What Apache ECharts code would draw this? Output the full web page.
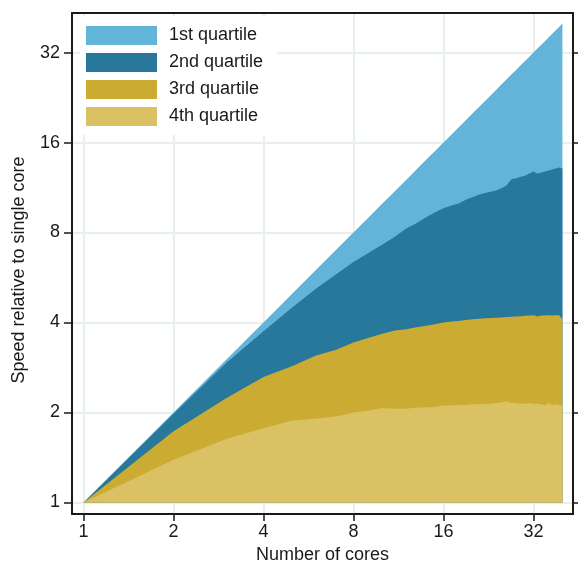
<!DOCTYPE html>
<html>
<head>
<meta charset="utf-8">
<script src="https://cdn.jsdelivr.net/npm/echarts@6/dist/echarts.min.js"></script>
<style>
html,body{margin:0;padding:0;background:#fff;}
#chart{width:578px;height:561px;}
</style>
</head>
<body>
<div id="chart"></div>
<script>
const cores = [1,2,3,4,5,6,7,8,9,10,11,12,13,14,15,16,17,18,19,20,21,22,23,24,25,26,27,28,29,30,31,32,33,34,35,36,37,38,39,40];
const quartile1 = [1,2,3,4,5,6,7,8,9,10,11,12,13,14,15,16,17,18,19,20,21,22,23,24,25,26,27,28,29,30,31,32,33,34,35,36,37,38,39,40];
const quartile2 = [1,1.98,2.93,3.74,4.5,5.2,5.8,6.38,6.85,7.3,7.75,8.25,8.6,9.0,9.35,9.65,9.85,10.0,10.3,10.5,10.7,10.85,10.95,11.05,11.25,11.5,12.05,12.15,12.3,12.4,12.6,12.8,12.6,12.7,12.8,12.9,13.0,13.1,13.2,13.1];
const quartile3 = [1,1.73,2.23,2.63,2.86,3.1,3.24,3.43,3.56,3.67,3.76,3.8,3.86,3.9,3.95,4.0,4.03,4.05,4.08,4.1,4.12,4.13,4.14,4.15,4.16,4.17,4.18,4.19,4.2,4.21,4.22,4.23,4.19,4.22,4.22,4.23,4.22,4.23,4.23,4.1];
const quartile4 = [1,1.39,1.63,1.77,1.88,1.91,1.94,2.0,2.03,2.07,2.06,2.06,2.08,2.08,2.09,2.11,2.11,2.12,2.12,2.13,2.13,2.14,2.14,2.15,2.16,2.18,2.15,2.15,2.14,2.14,2.15,2.14,2.14,2.13,2.11,2.15,2.12,2.13,2.12,2.11];
const tickValues = [1,2,4,8,16,32];
const seriesNames = ['1st quartile','2nd quartile','3rd quartile','4th quartile'];
const colors = ['#63b4d9','#27789b','#cbab31','#d9c164'];

const FONT = '"Liberation Sans", Arial, Helvetica, sans-serif';
const AXMIN = 0.915, AXMAX = 43.4;
const lineCol = '#1a1a1a';
const gridCol = '#e8eff0';

const chart = echarts.init(document.getElementById('chart'), null, {renderer:'canvas'});
const allData = [quartile1, quartile2, quartile3, quartile4];
const series = allData.map((vals, i) => ({
  name: seriesNames[i],
  type: 'line',
  xAxisIndex: 0,
  yAxisIndex: 0,
  data: cores.map((c, j) => [c, vals[j]]),
  showSymbol: false,
  symbol: 'none',
  lineStyle: {width: 0, color: colors[i]},
  itemStyle: {color: colors[i]},
  areaStyle: {color: colors[i], opacity: 1, origin: 1},
  silent: true,
  z: 2 + i
}));

const option = {
  animation: false,
  backgroundColor: '#ffffff',
  textStyle: {fontFamily: FONT},
  grid: {left: 72, right: 5, top: 13, bottom: 47, containLabel: false, outerBoundsMode: 'none'},
  legend: {
    data: seriesNames,
    orient: 'vertical',
    left: 80,
    top: 16,
    backgroundColor: '#ffffff',
    padding: [10, 14, 9, 6],
    itemGap: 8,
    itemWidth: 71,
    itemHeight: 19,
    icon: 'rect',
    selectedMode: false,
    textStyle: {fontFamily: FONT, fontSize: 18, color: '#1a1a1a', padding: [0, 0, 0, 7]},
    z: 10
  },
  xAxis: [{
    type: 'log', logBase: 2, min: AXMIN, max: AXMAX,
    position: 'bottom',
    name: 'Number of cores', nameLocation: 'middle', nameGap: 23,
    nameTextStyle: {fontFamily: FONT, fontSize: 18, color: '#1a1a1a'},
    axisLine: {show: true, onZero: false, lineStyle: {color: lineCol, width: 2}},
    axisTick: {show: true, inside: false, length: 7, customValues: tickValues, lineStyle: {color: lineCol, width: 1.5}},
    axisLabel: {show: true, customValues: tickValues, margin: 9, fontFamily: FONT, fontSize: 18, color: '#1a1a1a',
      formatter: v => String(Math.round(v))},
    splitLine: {show: true, lineStyle: {color: gridCol, width: 2}},
    minorTick: {show: false}
  }, {
    type: 'log', logBase: 2, min: AXMIN, max: AXMAX,
    position: 'top',
    axisLine: {show: true, onZero: false, lineStyle: {color: lineCol, width: 2}},
    axisTick: {show: false},
    axisLabel: {show: false},
    splitLine: {show: false}
  }],
  yAxis: [{
    type: 'log', logBase: 2, min: AXMIN, max: AXMAX,
    position: 'left',
    name: 'Speed relative to single core', nameLocation: 'middle', nameGap: 44,
    nameTextStyle: {fontFamily: FONT, fontSize: 18, color: '#1a1a1a', padding: [0, 13, 0, 0]},
    axisLine: {show: true, onZero: false, lineStyle: {color: lineCol, width: 2}},
    axisTick: {show: true, inside: false, length: 8, customValues: tickValues, lineStyle: {color: lineCol, width: 1.5}},
    axisLabel: {show: true, customValues: tickValues, margin: 12, fontFamily: FONT, fontSize: 18, color: '#1a1a1a',
      formatter: v => String(Math.round(v))},
    splitLine: {show: true, lineStyle: {color: gridCol, width: 2}}
  }, {
    type: 'log', logBase: 2, min: AXMIN, max: AXMAX,
    position: 'right',
    axisLine: {show: true, onZero: false, lineStyle: {color: lineCol, width: 2}},
    axisTick: {show: true, inside: false, length: 8, customValues: tickValues, lineStyle: {color: lineCol, width: 1.5}},
    axisLabel: {show: false},
    splitLine: {show: false}
  }],
  series: series
};
chart.setOption(option);
</script>
</body>
</html>
